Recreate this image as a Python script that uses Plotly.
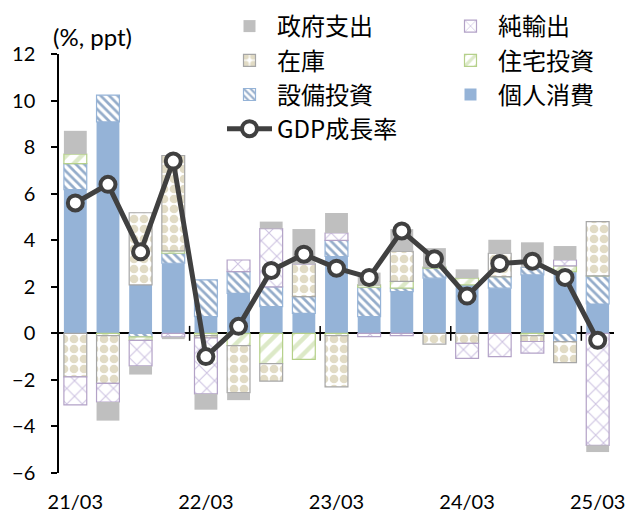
import plotly.graph_objects as go

quarters = ["21/03", "21/06", "21/09", "21/12", "22/03", "22/06", "22/09", "22/12",
            "23/03", "23/06", "23/09", "23/12", "24/03", "24/06", "24/09", "24/12", "25/03"]
tick_labels = ["21/03", "22/03", "23/03", "24/03", "25/03"]
y_ticks = [-6, -4, -2, 0, 2, 4, 6, 8, 10, 12]

consumption = [6.17, 9.08, 2.08, 3.01, 0.72, 1.72, 1.15, 0.86, 3.30, 0.72, 1.79, 2.37, 2.08, 1.94, 2.51, 2.65, 1.26]
capex       = [1.12, 1.15, -0.15, 0.43, 1.58, 0.93, 0.85, 0.72, 0.69, 1.26, 0.15, 0.43, 0.00, 0.50, 0.32, -0.36, 1.21]
housing     = [0.41, -0.10, -0.15, 0.10, -0.10, -0.53, -1.30, -1.12, -0.10, 0.10, 0.29, 0.05, 0.29, 0.00, -0.10, 0.25, 0.00]
inventory   = [-1.87, -2.05, 3.10, 4.10, -0.10, -2.02, -0.75, 1.40, -2.20, 0.00, 1.29, -0.46, -0.43, 1.00, -0.25, -0.90, 2.33]
net_exports = [-1.20, -0.80, -1.10, -0.15, -2.40, 0.50, 2.50, 0.00, 0.32, -0.14, -0.10, 0.00, -0.65, -1.00, -0.50, 0.25, -4.81]
government  = [1.00, -0.80, -0.37, -0.10, -0.68, -0.32, 0.30, 1.50, 0.86, 0.53, 0.96, 0.81, 0.38, 0.58, 1.08, 0.60, -0.29]
gdp_growth  = [5.6, 6.4, 3.5, 7.4, -1.0, 0.3, 2.7, 3.4, 2.8, 2.4, 4.4, 3.2, 1.6, 3.0, 3.1, 2.4, -0.3]

FONT = "Lato, 'Noto Sans CJK JP', sans-serif"
CJK = "'Noto Sans CJK JP', Lato, sans-serif"

fig = go.Figure()

# stacking order (nearest zero first)
fig.add_trace(go.Bar(
    x=quarters, y=consumption, name="個人消費", legendrank=6,
    marker=dict(color="#95b3d7", line=dict(width=0)),
))
fig.add_trace(go.Bar(
    x=quarters, y=capex, name="設備投資", legendrank=5,
    marker=dict(color="white", line=dict(color="#95b3d7", width=1.2),
                pattern=dict(shape="\\", fgcolor="#2a5a96", bgcolor="white",
                             size=6, solidity=0.45, fillmode="overlay")),
))
fig.add_trace(go.Bar(
    x=quarters, y=housing, name="住宅投資", legendrank=4,
    marker=dict(color="white", line=dict(color="#b5d08a", width=1.2),
                pattern=dict(shape="/", fgcolor="#b9d38f", bgcolor="white",
                             size=11, solidity=0.4, fillmode="overlay")),
))
fig.add_trace(go.Bar(
    x=quarters, y=inventory, name="在庫", legendrank=3,
    marker=dict(color="white", line=dict(color="#a6a6a6", width=1.2),
                pattern=dict(shape=".", fgcolor="#c4b78c", bgcolor="white",
                             size=10, solidity=0.6, fillmode="overlay")),
))
fig.add_trace(go.Bar(
    x=quarters, y=net_exports, name="純輸出", legendrank=2,
    marker=dict(color="white", line=dict(color="#b3a2c7", width=1.2),
                pattern=dict(shape="x", fgcolor="#9b85c2", bgcolor="white",
                             size=11, solidity=0.18, fillmode="overlay")),
))
fig.add_trace(go.Bar(
    x=quarters, y=government, name="政府支出", legendrank=1,
    marker=dict(color="#bfbfbf", line=dict(width=0)),
))
fig.add_trace(go.Scatter(
    x=quarters, y=gdp_growth, name="GDP成長率", legendrank=7,
    mode="lines+markers",
    line=dict(color="#404040", width=5),
    marker=dict(symbol="circle", size=15, color="white",
                line=dict(color="#404040", width=4)),
))

# crossing tick marks on the zero axis between every 4th category
for xpos in [3.5, 7.5, 11.5, 15.5]:
    fig.add_shape(type="line", xref="x", yref="y", x0=xpos, x1=xpos, y0=-0.32, y1=0.32,
                  line=dict(color="black", width=1.5), layer="above")

fig.update_layout(
    width=628, height=514,
    margin=dict(l=59, r=14, t=54, b=41, autoexpand=False),
    barmode="relative",
    bargap=0.3,
    plot_bgcolor="white",
    paper_bgcolor="white",
    font=dict(family=FONT, size=20, color="black"),
    showlegend=True,
    legend=dict(
        orientation="h", traceorder="normal",
        xref="paper", yref="paper",
        x=(222 - 59) / 555, y=1 + (54 - 4) / 419, xanchor="left", yanchor="top",
        entrywidth=161, entrywidthmode="pixels",
        itemwidth=45,
        font=dict(family=CJK, size=24, color="black"),
        bgcolor="rgba(0,0,0,0)",
    ),
    annotations=[dict(
        text="(%, ppt)", xref="paper", yref="paper", x=-0.015, y=1.041,
        xanchor="left", yanchor="middle", showarrow=False,
        font=dict(family=FONT, size=24, color="black"),
    )],
)

fig.update_xaxes(
    type="category",
    range=[-0.5, 16.5],
    tickmode="array", tickvals=tick_labels, ticktext=tick_labels,
    ticks="", showline=False, showgrid=False, zeroline=False,
    tickfont=dict(family=FONT, size=20, color="black"),
    ticklabelstandoff=15,
)
fig.update_yaxes(
    range=[-6, 12], tickmode="array", tickvals=y_ticks,
    ticks="outside", ticklen=6, tickcolor="black", tickwidth=1.5,
    showline=True, linecolor="black", linewidth=1.5,
    showgrid=False, zeroline=True, zerolinecolor="black", zerolinewidth=1.5,
    tickfont=dict(family=FONT, size=20, color="black"),
    ticklabelstandoff=12,
)

fig.write_html("out.html")
